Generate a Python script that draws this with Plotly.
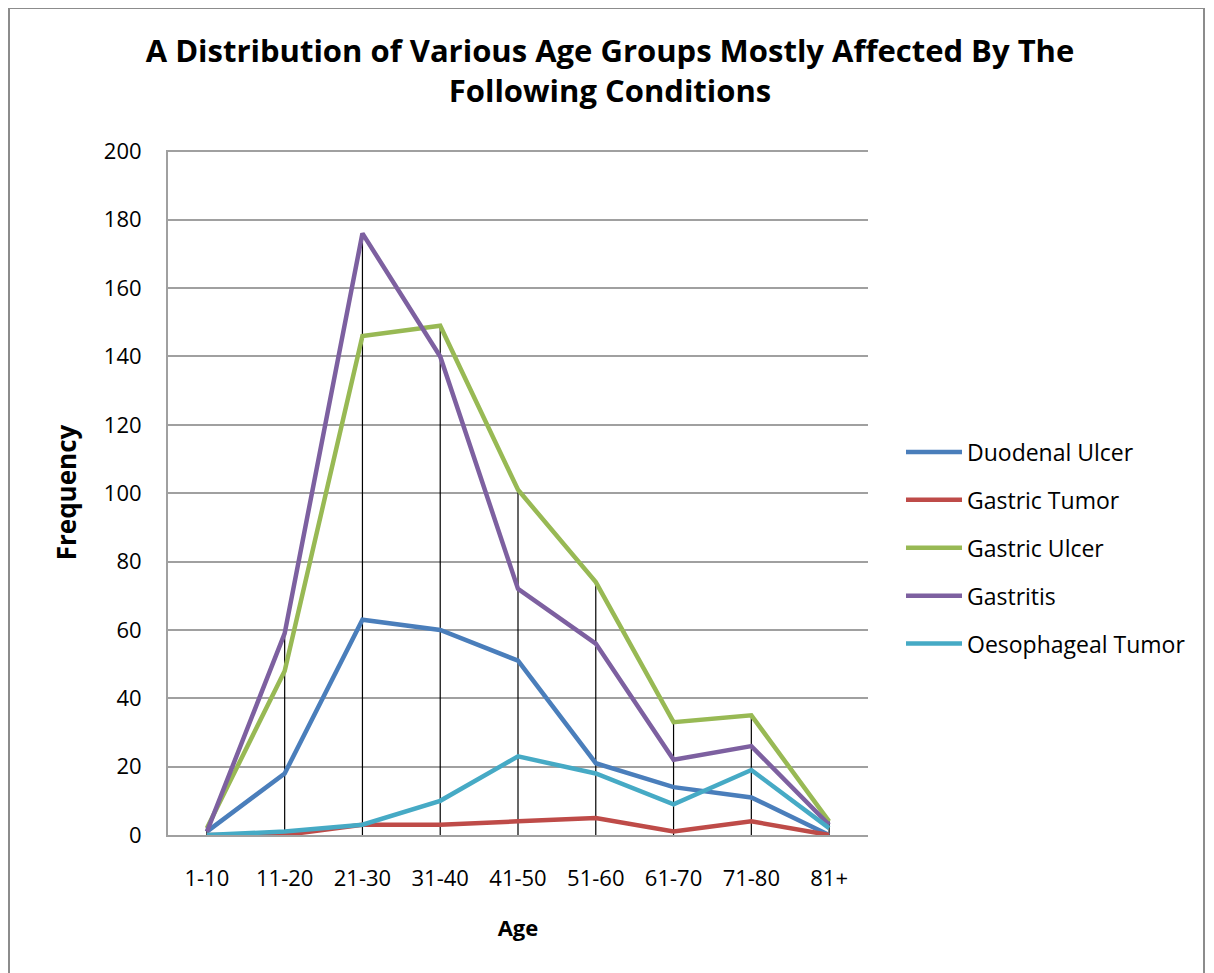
import plotly.graph_objects as go

categories = ["1-10", "11-20", "21-30", "31-40", "41-50", "51-60", "61-70", "71-80", "81+"]
duodenal_ulcer = [1, 18, 63, 60, 51, 21, 14, 11, 0]
gastric_tumor = [0, 0, 3, 3, 4, 5, 1, 4, 0]
gastric_ulcer = [2, 48, 146, 149, 101, 74, 33, 35, 4]
gastritis = [1, 59, 176, 140, 72, 56, 22, 26, 3]
oesophageal_tumor = [0, 1, 3, 10, 23, 18, 9, 19, 2]

series = [
    ("Duodenal Ulcer", duodenal_ulcer, "#4A7EBB"),
    ("Gastric Tumor", gastric_tumor, "#BE4B48"),
    ("Gastric Ulcer", gastric_ulcer, "#98B954"),
    ("Gastritis", gastritis, "#7D60A0"),
    ("Oesophageal Tumor", oesophageal_tumor, "#46AAC5"),
]

fig = go.Figure()

# drop lines from the highest point of each category down to the axis
dx, dy = [], []
for i, c in enumerate(categories):
    top = max(s[1][i] for s in series)
    dx += [c, c, None]
    dy += [0, top, None]
fig.add_trace(go.Scatter(x=dx, y=dy, mode="lines", line=dict(color="black", width=1.2),
                         showlegend=False, hoverinfo="skip"))

for name, vals, color in series:
    fig.add_trace(go.Scatter(x=categories, y=vals, mode="lines", name=name,
                             legendgroup=name,
                             line=dict(color=color, width=4.5)))

font_family = "Open Sans, Lato, sans-serif"

# page has an 8px body margin; figure coordinates are page minus 8
L, T, R, B = 160, 142, 860, 827
W, H = 1214, 973
pw, ph = R - L, B - T

fig.update_layout(
    width=W, height=H,
    margin=dict(l=L, r=W - R, t=T, b=H - B),
    paper_bgcolor="white", plot_bgcolor="white",
    font=dict(family=font_family, size=22, color="black"),
    title=dict(text="<b>A Distribution of Various Age Groups Mostly Affected By The<br>Following Conditions</b>",
               x=602 / W, xanchor="center", y=1 - 54 / H, yanchor="top",
               font=dict(family=font_family, size=31, color="black")),
    legend=dict(x=1 + 33 / pw, xanchor="left", y=(B - 540) / ph, yanchor="middle",
                font=dict(family=font_family, size=23, color="black"),
                tracegroupgap=15, itemwidth=56, bgcolor="rgba(0,0,0,0)"),
    showlegend=True,
    xaxis=dict(type="category", range=[-0.5, 8.5], showgrid=False,
               showline=True, linecolor="#A0A0A0", linewidth=2,
               ticks="", tickfont=dict(size=22), ticklabelstandoff=23,
               title=dict(text="<b>Age</b>", font=dict(size=22), standoff=29)),
    yaxis=dict(range=[0, 200.4], dtick=20, showgrid=True, gridcolor="#A0A0A0", gridwidth=1.5,
               showline=True, linecolor="#A0A0A0", linewidth=2, zeroline=False,
               ticks="", ticklabelstandoff=20,
               tickfont=dict(size=22),
               title=dict(text="<b>Frequency</b>", font=dict(size=26), standoff=20)),
)

fig.add_shape(type="rect", xref="paper", yref="paper",
              x0=(1 - L) / pw, x1=(1196 - L) / pw,
              y0=(B - 1000) / ph, y1=(B + 0) / ph,
              line=dict(color="#8C8C8C", width=2), layer="below")

fig.write_html("out.html")
